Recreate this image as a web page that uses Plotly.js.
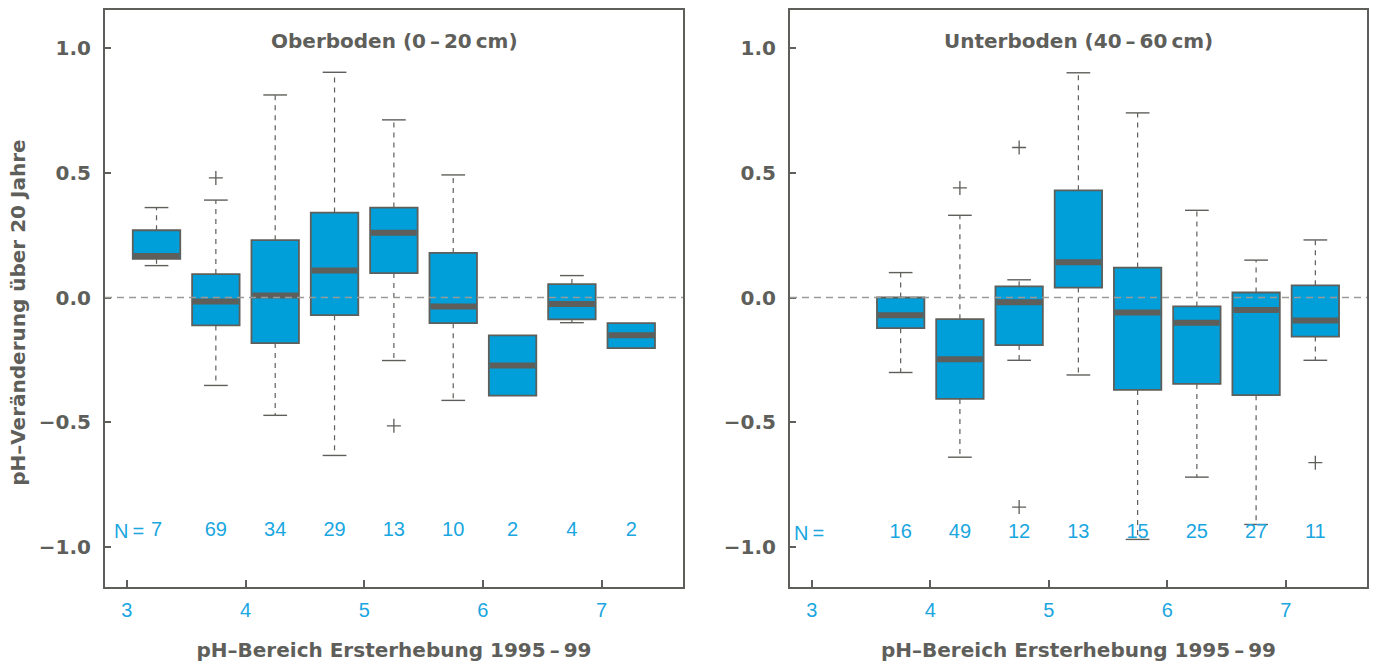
<!DOCTYPE html>
<html>
<head>
<meta charset="utf-8">
<script src="https://cdn.plot.ly/plotly-3.0.1.min.js"></script>
<style>html,body{margin:0;padding:0;background:#fff;}#chart{width:1376px;height:664px;}</style>
</head>
<body>
<div id="chart"></div>
<script>
// ---------- data: Oberboden (0-20 cm) ----------
const topCats = [3.25, 3.75, 4.25, 4.75, 5.25, 5.75, 6.25, 6.75, 7.25];
const topN = [7, 69, 34, 29, 13, 10, 2, 4, 2];
const topQ1 = [0.155, -0.112, -0.183, -0.071, 0.098, -0.103, -0.394, -0.088, -0.203];
const topMedian = [0.167, -0.016, 0.008, 0.108, 0.260, -0.036, -0.273, -0.026, -0.152];
const topQ3 = [0.270, 0.094, 0.230, 0.341, 0.361, 0.179, -0.152, 0.054, -0.103];
const topLow = [0.128, -0.353, -0.473, -0.634, -0.253, -0.413, null, -0.101, null];
const topHigh = [0.361, 0.391, 0.813, 0.904, 0.713, 0.492, null, 0.088, null];
const topOutX = [3.75, 5.25];
const topOutY = [0.480, -0.515];

// ---------- data: Unterboden (40-60 cm) ----------
const subCats = [3.75, 4.25, 4.75, 5.25, 5.75, 6.25, 6.75, 7.25];
const subN = [16, 49, 12, 13, 15, 25, 27, 11];
const subQ1 = [-0.123, -0.407, -0.191, 0.040, -0.371, -0.347, -0.392, -0.157];
const subMedian = [-0.071, -0.248, -0.019, 0.142, -0.060, -0.101, -0.050, -0.092];
const subQ3 = [0.000, -0.087, 0.045, 0.430, 0.120, -0.036, 0.020, 0.049];
const subLow = [-0.301, -0.641, -0.252, -0.311, -0.971, -0.721, -0.911, -0.252];
const subHigh = [0.100, 0.330, 0.071, 0.902, 0.741, 0.350, 0.150, 0.231];
const subOutX = [4.25, 4.75, 4.75, 7.25];
const subOutY = [0.440, 0.602, -0.841, -0.663];

// ---------- axis ticks and texts ----------
const xTickVals = [3, 4, 5, 6, 7];
const xTickText = ['3', '4', '5', '6', '7'];
const yTickVals = [-1, -0.5, 0, 0.5, 1];
const yTickText = ['\u22121.0', '\u22120.5', '0.0', '0.5', '1.0'];
const panelTitles = ['Oberboden (0\u2009\u2013\u200920\u2009cm)', 'Unterboden (40\u2009\u2013\u200960\u2009cm)'];
const xTitle = 'pH\u2013Bereich Ersterhebung 1995\u2009\u2013\u200999';
const yTitle = 'pH\u2013Veränderung über 20 Jahre';

// ---------- styles ----------
const GRAY = '#5e5e5a';
const BOXBLUE = '#009fda';
const TXTBLUE = '#1aa6df';
const BOXW = 0.4, CAPW = 0.2;
const boldFont = {family: 'DejaVu Sans', size: 20, color: GRAY, weight: 'bold'};
const blueFont = {family: 'Liberation Sans', size: 20, color: TXTBLUE};

function panelTraces(cats, n, q1, med, q3, lo, hi, outX, outY, xa, ya, labelY) {
  const traces = [];
  traces.push({
    type: 'bar', x: cats, y: q3.map((v, i) => v - q1[i]), base: q1, width: BOXW,
    xaxis: xa, yaxis: ya,
    marker: {color: BOXBLUE, line: {color: GRAY, width: 1.8}},
    hoverinfo: 'skip'
  });
  const wx = [], wy = [], cx = [], cy = [], mx = [], my = [];
  cats.forEach((x, i) => {
    if (hi[i] !== null) {
      wx.push(x, x, null); wy.push(q3[i], hi[i], null);
      cx.push(x - CAPW / 2, x + CAPW / 2, null); cy.push(hi[i], hi[i], null);
    }
    if (lo[i] !== null) {
      wx.push(x, x, null); wy.push(q1[i], lo[i], null);
      cx.push(x - CAPW / 2, x + CAPW / 2, null); cy.push(lo[i], lo[i], null);
    }
    mx.push(x - BOXW / 2 + 0.008, x + BOXW / 2 - 0.008, null); my.push(med[i], med[i], null);
  });
  traces.push({type: 'scatter', mode: 'lines', x: wx, y: wy, xaxis: xa, yaxis: ya,
    line: {color: GRAY, width: 1.2, dash: '5px,5px'}, hoverinfo: 'skip'});
  traces.push({type: 'scatter', mode: 'lines', x: cx, y: cy, xaxis: xa, yaxis: ya,
    line: {color: GRAY, width: 1.4}, hoverinfo: 'skip'});
  traces.push({type: 'scatter', mode: 'lines', x: mx, y: my, xaxis: xa, yaxis: ya,
    line: {color: GRAY, width: 6}, hoverinfo: 'skip'});
  traces.push({type: 'scatter', mode: 'markers', x: outX, y: outY, xaxis: xa, yaxis: ya,
    marker: {symbol: 'cross-thin-open', size: 10, color: GRAY, line: {color: GRAY, width: 1.3}}});
  traces.push({type: 'scatter', mode: 'text', x: cats, y: cats.map(() => labelY),
    text: n.map(String), textposition: 'middle center', xaxis: xa, yaxis: ya,
    textfont: blueFont, hoverinfo: 'skip'});
  return traces;
}

const data = [].concat(
  panelTraces(topCats, topN, topQ1, topMedian, topQ3, topLow, topHigh, topOutX, topOutY, 'x', 'y', -0.937),
  panelTraces(subCats, subN, subQ1, subMedian, subQ3, subLow, subHigh, subOutX, subOutY, 'x2', 'y2', -0.947)
);

function xAxis(domain, anchor) {
  return {
    domain: domain, anchor: anchor, range: [2.816, 7.686],
    tickmode: 'array', tickvals: xTickVals, ticktext: xTickText,
    ticks: 'inside', ticklen: 7, tickwidth: 2, tickcolor: GRAY,
    showline: true, linecolor: GRAY, linewidth: 2, mirror: true,
    showgrid: false, zeroline: false, ticklabelstandoff: 4,
    tickfont: blueFont,
    title: {text: xTitle, font: boldFont, standoff: 23},
    fixedrange: true
  };
}
function yAxis(anchor) {
  return {
    anchor: anchor, domain: [0, 1], range: [-1.162, 1.154],
    tickmode: 'array', tickvals: yTickVals, ticktext: yTickText,
    ticks: 'inside', ticklen: 6, tickwidth: 2, tickcolor: GRAY,
    showline: true, linecolor: GRAY, linewidth: 2, mirror: true,
    showgrid: false, zeroline: false, ticklabelstandoff: 8,
    tickfont: boldFont, fixedrange: true
  };
}

const zeroLine = (xr, yr) => ({type: 'line', xref: xr + ' domain', yref: yr, x0: 0, x1: 1, y0: 0, y1: 0,
  line: {color: '#9a9a98', width: 1.6, dash: '7px,5px'}, layer: 'above'});

const layout = {
  width: 1376, height: 664,
  margin: {l: 105, r: 9, t: 10, b: 77},
  paper_bgcolor: '#ffffff', plot_bgcolor: '#ffffff',
  showlegend: false, barmode: 'overlay',
  xaxis: xAxis([0, 578 / 1262], 'y'),
  yaxis: yAxis('x'),
  xaxis2: xAxis([685 / 1262, 1], 'y2'),
  yaxis2: yAxis('x2'),
  shapes: [zeroLine('x', 'y'), zeroLine('x2', 'y2')],
  annotations: [
    {xref: 'x domain', yref: 'y domain', x: 0.5, y: 0.946, text: panelTitles[0], showarrow: false,
      font: boldFont, xanchor: 'center', yanchor: 'middle'},
    {xref: 'x2 domain', yref: 'y2 domain', x: 0.5, y: 0.946, text: panelTitles[1], showarrow: false,
      font: boldFont, xanchor: 'center', yanchor: 'middle'},
    {xref: 'paper', yref: 'paper', x: -0.069, y: 0.475, text: yTitle, textangle: -90, showarrow: false,
      font: boldFont, xanchor: 'center', yanchor: 'middle'},
    {xref: 'x', yref: 'y', x: 3.16, y: -0.937, text: 'N\u2009=', showarrow: false,
      font: blueFont, xanchor: 'right', yanchor: 'middle'},
    {xref: 'x2', yref: 'y2', x: 3.12, y: -0.947, text: 'N\u2009=', showarrow: false,
      font: blueFont, xanchor: 'right', yanchor: 'middle'}
  ]
};

Plotly.newPlot('chart', data, layout, {displayModeBar: false, responsive: false});
</script>
</body>
</html>
